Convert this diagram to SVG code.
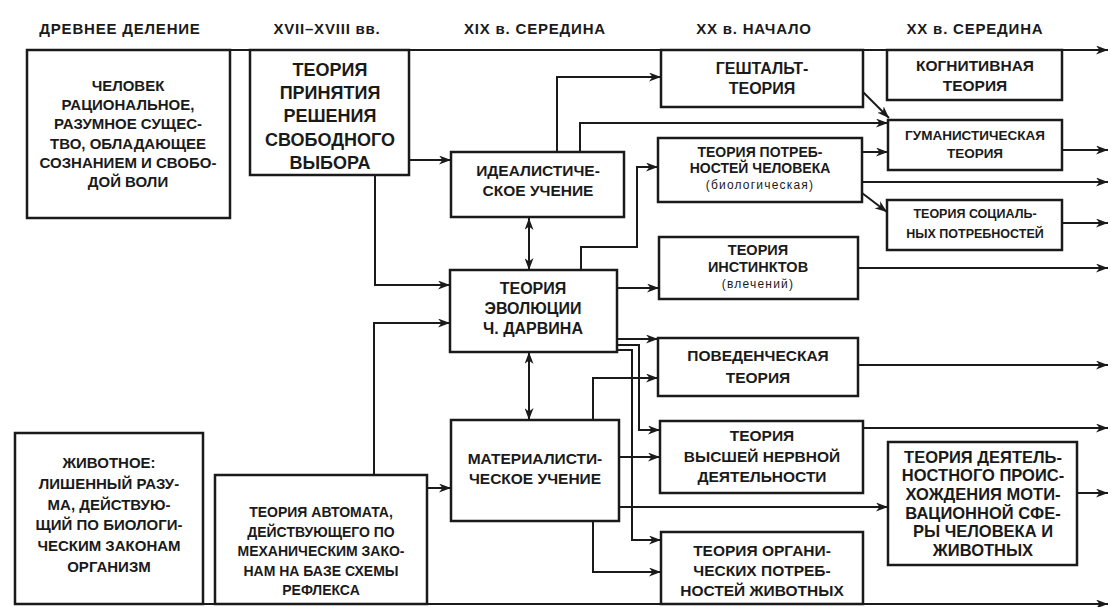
<svg xmlns="http://www.w3.org/2000/svg" width="1111" height="607" viewBox="0 0 1111 607">
<defs>
<marker id="ar" markerUnits="userSpaceOnUse" markerWidth="13" markerHeight="9" refX="12" refY="4.5" orient="auto-start-reverse">
<path d="M0,0 L12,4.5 L0,9 L3.5,4.5 z" fill="#1a1a1a"/>
</marker>
<style>
.box{fill:#fff;stroke:#1a1a1a;stroke-width:2.5}
.ln{fill:none;stroke:#1a1a1a;stroke-width:2}
.a{marker-end:url(#ar)}
.b{marker-start:url(#ar);marker-end:url(#ar)}
text{font-family:"Liberation Sans",Arial,sans-serif;font-weight:bold;fill:#1a1a1a;text-anchor:middle}
.h{font-size:15px;letter-spacing:0.8px}
.s{font-weight:normal;font-size:12px;letter-spacing:1.2px}
</style>
</defs>
<rect width="1111" height="607" fill="#fff"/>

<g id="headers">
<text class="h" x="120" y="34">ДРЕВНЕЕ ДЕЛЕНИЕ</text>
<text class="h" x="327" y="34">XVII–XVIII вв.</text>
<text class="h" x="535" y="34">XIX в. СЕРЕДИНА</text>
<text class="h" x="754" y="34">XX в. НАЧАЛО</text>
<text class="h" x="975" y="34">XX в. СЕРЕДИНА</text>
</g>

<g id="node-chelovek">
<rect class="box" x="27" y="50" width="203" height="168"/>
<g font-size="15">
<text x="128" y="91">ЧЕЛОВЕК</text>
<text x="128" y="110">РАЦИОНАЛЬНОЕ,</text>
<text x="128" y="129">РАЗУМНОЕ СУЩЕС-</text>
<text x="128" y="149">ТВО, ОБЛАДАЮЩЕЕ</text>
<text x="128" y="168">СОЗНАНИЕМ И СВОБО-</text>
<text x="128" y="187">ДОЙ ВОЛИ</text>
</g>
</g>

<g id="node-prinyatie">
<rect class="box" x="250" y="50" width="159" height="125"/>
<g font-size="18">
<text x="330" y="76">ТЕОРИЯ</text>
<text x="330" y="99">ПРИНЯТИЯ</text>
<text x="330" y="122">РЕШЕНИЯ</text>
<text x="330" y="146">СВОБОДНОГО</text>
<text x="330" y="169">ВЫБОРА</text>
</g>
</g>

<g id="node-idealist">
<rect class="box" x="451" y="152" width="173" height="65"/>
<g font-size="15.5">
<text x="538" y="176">ИДЕАЛИСТИЧЕ-</text>
<text x="538" y="196">СКОЕ УЧЕНИЕ</text>
</g>
</g>

<g id="node-darwin">
<rect class="box" x="450" y="270" width="167" height="82"/>
<g font-size="16">
<text x="533" y="294">ТЕОРИЯ</text>
<text x="533" y="314">ЭВОЛЮЦИИ</text>
<text x="533" y="334">Ч. ДАРВИНА</text>
</g>
</g>

<g id="node-material">
<rect class="box" x="451" y="420" width="168" height="101"/>
<g font-size="15.5">
<text x="535" y="464">МАТЕРИАЛИСТИ-</text>
<text x="535" y="484">ЧЕСКОЕ УЧЕНИЕ</text>
</g>
</g>

<g id="node-zhivotnoe">
<rect class="box" x="15" y="433" width="188" height="171"/>
<g font-size="15">
<text x="109" y="468">ЖИВОТНОЕ:</text>
<text x="109" y="489">ЛИШЕННЫЙ РАЗУ-</text>
<text x="109" y="510">МА, ДЕЙСТВУЮ-</text>
<text x="109" y="530">ЩИЙ ПО БИОЛОГИ-</text>
<text x="109" y="551">ЧЕСКИМ ЗАКОНАМ</text>
<text x="109" y="572">ОРГАНИЗМ</text>
</g>
</g>

<g id="node-avtomat">
<rect class="box" x="215" y="475" width="212" height="129"/>
<g font-size="14">
<text x="321" y="517">ТЕОРИЯ АВТОМАТА,</text>
<text x="321" y="537">ДЕЙСТВУЮЩЕГО ПО</text>
<text x="321" y="556">МЕХАНИЧЕСКИМ ЗАКО-</text>
<text x="321" y="576">НАМ НА БАЗЕ СХЕМЫ</text>
<text x="321" y="595">РЕФЛЕКСА</text>
</g>
</g>

<g id="node-gestalt">
<rect class="box" x="661" y="50" width="202" height="57"/>
<g font-size="16">
<text x="762" y="74">ГЕШТАЛЬТ-</text>
<text x="762" y="94">ТЕОРИЯ</text>
</g>
</g>

<g id="node-potrebn">
<rect class="box" x="658" y="138" width="204" height="64"/>
<g font-size="14">
<text x="760" y="157">ТЕОРИЯ ПОТРЕБ-</text>
<text x="760" y="173">НОСТЕЙ ЧЕЛОВЕКА</text>
</g>
<text class="s" x="760" y="189">(биологическая)</text>
</g>

<g id="node-instinkt">
<rect class="box" x="659" y="237" width="199" height="62"/>
<g font-size="14.5">
<text x="758" y="255">ТЕОРИЯ</text>
<text x="758" y="272">ИНСТИНКТОВ</text>
</g>
<text class="s" x="758" y="288">(влечений)</text>
</g>

<g id="node-povedench">
<rect class="box" x="658" y="338" width="200" height="58"/>
<g font-size="15.5">
<text x="758" y="361">ПОВЕДЕНЧЕСКАЯ</text>
<text x="758" y="383">ТЕОРИЯ</text>
</g>
</g>

<g id="node-vnd">
<rect class="box" x="660" y="421" width="203" height="72"/>
<g font-size="15.5">
<text x="762" y="441">ТЕОРИЯ</text>
<text x="762" y="462">ВЫСШЕЙ НЕРВНОЙ</text>
<text x="762" y="482">ДЕЯТЕЛЬНОСТИ</text>
</g>
</g>

<g id="node-organich">
<rect class="box" x="661" y="532" width="202" height="72"/>
<g font-size="15.5">
<text x="762" y="556">ТЕОРИЯ ОРГАНИ-</text>
<text x="762" y="576">ЧЕСКИХ ПОТРЕБ-</text>
<text x="762" y="596">НОСТЕЙ ЖИВОТНЫХ</text>
</g>
</g>

<g id="node-kognitiv">
<rect class="box" x="887" y="50" width="175" height="50"/>
<g font-size="15.5">
<text x="975" y="71">КОГНИТИВНАЯ</text>
<text x="975" y="91">ТЕОРИЯ</text>
</g>
</g>

<g id="node-gumanist">
<rect class="box" x="888" y="120" width="174" height="50"/>
<g font-size="13.5">
<text x="975" y="140">ГУМАНИСТИЧЕСКАЯ</text>
<text x="975" y="158">ТЕОРИЯ</text>
</g>
</g>

<g id="node-social">
<rect class="box" x="887" y="200" width="175" height="50"/>
<g font-size="12.5">
<text x="975" y="218">ТЕОРИЯ СОЦИАЛЬ-</text>
<text x="975" y="238">НЫХ ПОТРЕБНОСТЕЙ</text>
</g>
</g>

<g id="node-deyatel">
<rect class="box" x="888" y="442" width="189" height="123"/>
<g font-size="16.5">
<text x="983" y="463">ТЕОРИЯ  ДЕЯТЕЛЬ-</text>
<text x="983" y="481">НОСТНОГО ПРОИС-</text>
<text x="983" y="500">ХОЖДЕНИЯ МОТИ-</text>
<text x="983" y="519">ВАЦИОННОЙ СФЕ-</text>
<text x="983" y="537">РЫ ЧЕЛОВЕКА И</text>
<text x="983" y="556">ЖИВОТНЫХ</text>
</g>
</g>

<g id="connectors">
<path class="ln a" d="M27,50 H1108"/>
<path class="ln a" d="M15,604 H1108"/>
<path class="ln a" d="M409,160 H451"/>
<path class="ln a" d="M375,175 V285 H450"/>
<path class="ln a" d="M374,475 V323 H450"/>
<path class="ln a" d="M427,488 H451"/>
<path class="ln b" d="M529,218 V270"/>
<path class="ln b" d="M529,352 V420"/>
<path class="ln a" d="M557,152 V77 H661"/>
<path class="ln a" d="M580,152 V123 H888"/>
<path class="ln a" d="M863,92 L889,118"/>
<path class="ln a" d="M581,270 V247 H637 V167 H658"/>
<path class="ln a" d="M617,288 H659"/>
<path class="ln a" d="M617,339 H658"/>
<path class="ln a" d="M617,345 H639 V430 H660"/>
<path class="ln a" d="M617,350 H632 V540 H661"/>
<path class="ln a" d="M593,420 V378 H658"/>
<path class="ln a" d="M619,457 H660"/>
<path class="ln a" d="M619,507 H888"/>
<path class="ln a" d="M593,521 V572 H661"/>
<path class="ln a" d="M862,152 H888"/>
<path class="ln a" d="M862,182 H1108"/>
<path class="ln a" d="M862,193 L887,212"/>
<path class="ln a" d="M1062,150 H1108"/>
<path class="ln a" d="M1062,223 H1108"/>
<path class="ln a" d="M858,268 H1108"/>
<path class="ln a" d="M858,365 H1108"/>
<path class="ln a" d="M863,428 H1108"/>
<path class="ln a" d="M1077,493 H1108"/>
</g>
</svg>
